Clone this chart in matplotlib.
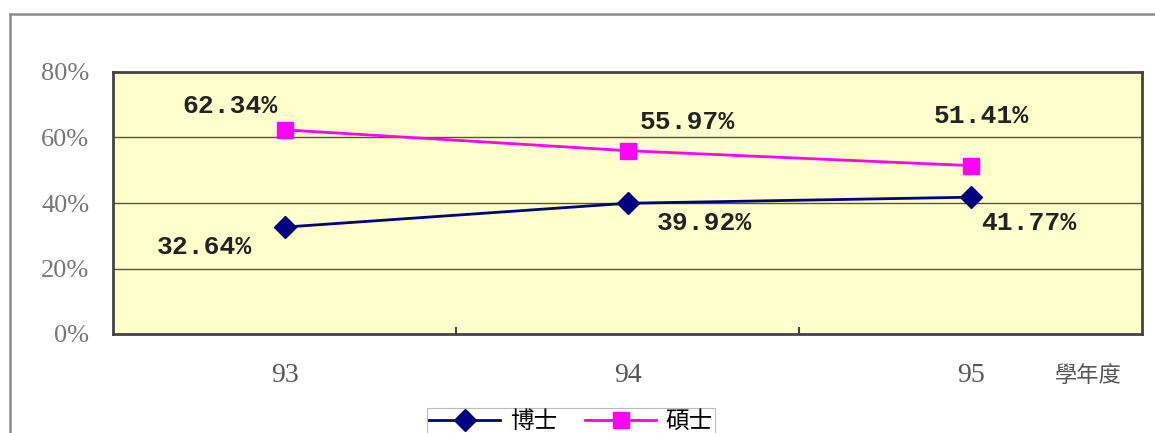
import matplotlib
matplotlib.use("Agg")
import matplotlib.pyplot as plt
from matplotlib.lines import Line2D

years = ["93", "94", "95"]
phd = [32.64, 39.92, 41.77]
master = [62.34, 55.97, 51.41]
series_names = ["博士", "碩士"]
yticks = [0, 20, 40, 60, 80]
xlabel = "學年度"

# label offsets in pixels (dx, dy) relative to each point
phd_off = [(-80, -20), (77, -20), (58, -26)]
master_off = [(-55, 24), (60, 29), (11, 50)]

fig = plt.figure(figsize=(11.55, 4.33), dpi=100)
fig.patch.set_facecolor("white")

# outer frame (top and left edges visible)
fig.add_artist(Line2D([10/1155, 1.0], [1-14/433, 1-14/433], transform=fig.transFigure,
                      color="#8c8c8c", lw=1.8))
fig.add_artist(Line2D([10/1155, 10/1155], [1-14/433, 0], transform=fig.transFigure,
                      color="#8c8c8c", lw=1.8))

ax = fig.add_axes([113/1155, 1-334/433, (1142-113)/1155, (334-72)/433])
ax.set_facecolor("#FFFFCC")
ax.set_xlim(0, 3)
ax.set_ylim(0, 80)

xs = [i + 0.5 for i in range(len(years))]

for y in yticks[1:-1]:
    ax.axhline(y, color="#555533", lw=1.0, zorder=1)

ax.plot(xs, phd, color="#000080", lw=2, marker="D", markersize=11, zorder=3,
        label=series_names[0])
ax.plot(xs, master, color="#FF00FF", lw=2, marker="s", markersize=12, zorder=3,
        label=series_names[1])

lab_font = dict(family="Liberation Mono", weight="bold", size=19, color="#222222")
for x, v, off in zip(xs, phd, phd_off):
    ax.annotate(f"{v:.2f}%", (x, v), xytext=off, textcoords="offset pixels",
                ha="center", va="center", **lab_font)
for x, v, off in zip(xs, master, master_off):
    ax.annotate(f"{v:.2f}%", (x, v), xytext=off, textcoords="offset pixels",
                ha="center", va="center", **lab_font)

for s in ax.spines.values():
    s.set_color("#444444")
    s.set_linewidth(2)

ax.set_yticks(yticks)
ax.set_yticklabels([f"{t}%" for t in yticks], family="Liberation Serif", size=19,
                   color="#777777")
ax.tick_params(axis="y", length=0, pad=17)

ax.set_xticks([1, 2])
ax.set_xticklabels([])
ax.tick_params(axis="x", which="major", length=5, width=1.5, color="#444444",
               direction="in")
ax.set_xticks(xs, minor=True)
ax.set_xticklabels(years, minor=True, family="Liberation Serif", size=20, color="#555555")
ax.tick_params(axis="x", which="minor", length=0, pad=21)

ax.text((1088-113)/(1142-113), -42/262, xlabel, transform=ax.transAxes,
        ha="center", va="center", family=["Noto Sans CJK TC", "DejaVu Sans"],
        size=16, color="#555555")

leg = fig.legend(loc="upper center", bbox_to_anchor=(571/1155, 1-396/433), ncol=2,
                 frameon=True, fancybox=False, edgecolor="#bbbbbb", framealpha=1,
                 prop={"family": ["Noto Sans CJK TC", "DejaVu Sans"], "size": 17},
                 handlelength=3.0, handletextpad=0.4, columnspacing=1.2, borderpad=0.1)
leg.get_frame().set_linewidth(0.8)

fig.savefig("out.png", dpi=100)
